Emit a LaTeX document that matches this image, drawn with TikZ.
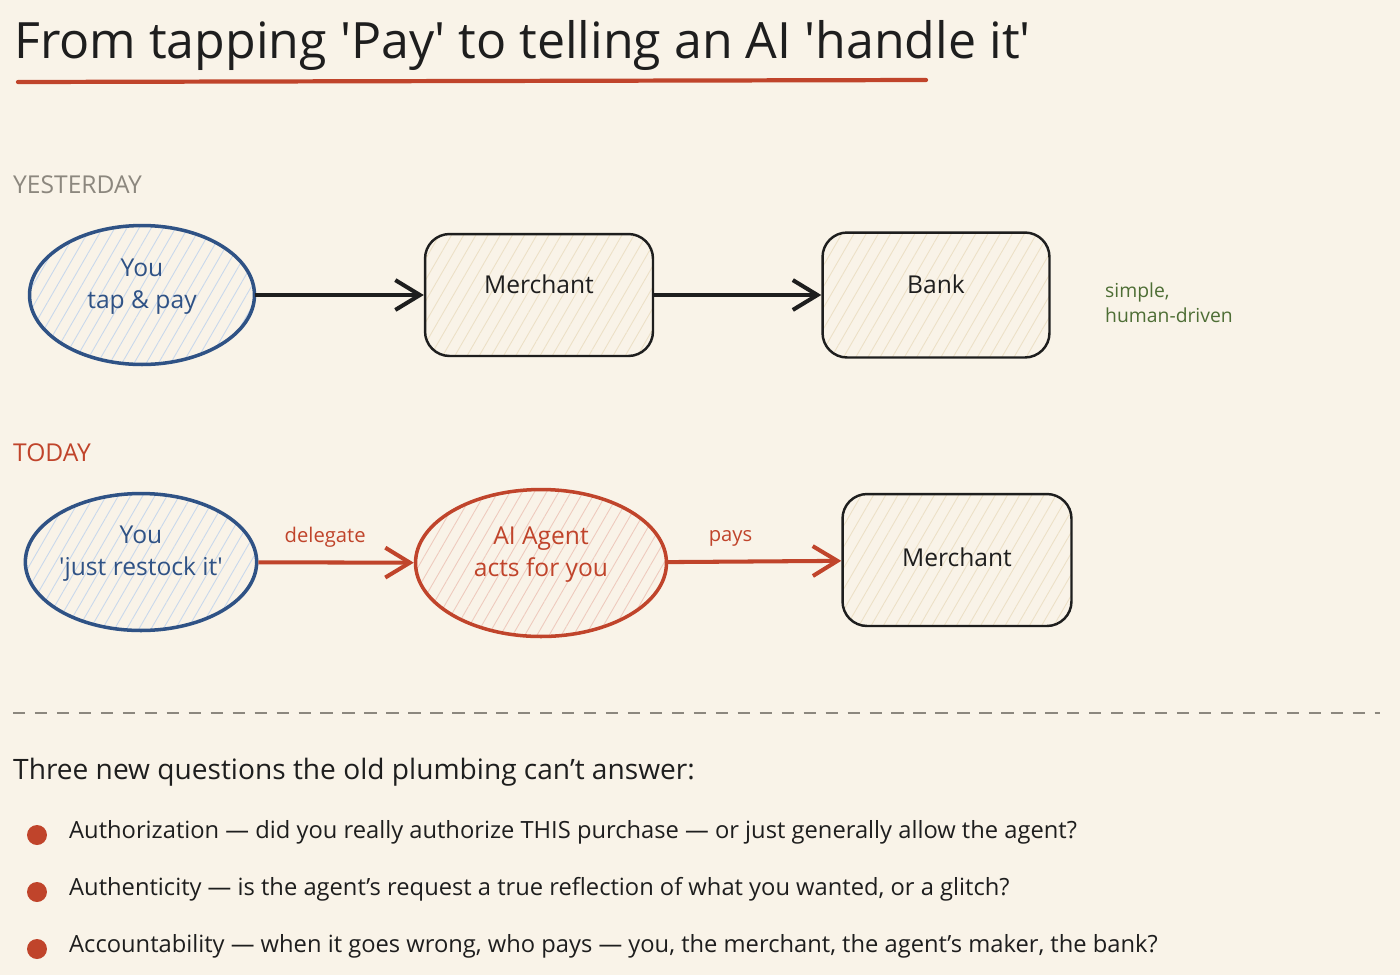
\documentclass[tikz,border=0pt]{standalone}
\usepackage{fontspec}
\setmainfont{Open Sans}
\usetikzlibrary{positioning,arrows.meta,shapes.geometric,patterns.meta}

\definecolor{paper}{HTML}{F9F3E8}
\definecolor{ink}{HTML}{1E1E1E}
\definecolor{inkblue}{HTML}{2F5285}
\definecolor{inkred}{HTML}{C0442B}
\definecolor{inkgreen}{HTML}{4E6E35}
\definecolor{inkgray}{HTML}{8C877E}
\definecolor{hatchblue}{HTML}{C8D8EC}
\definecolor{hatchred}{HTML}{EECABD}
\definecolor{hatchtan}{HTML}{ECE0C6}

\begin{document}
\begin{tikzpicture}[
		x=0.02cm, y=-0.02cm,
		font=\fontsize{14}{18}\selectfont,
		>={Straight Barb[length=14pt,width=17pt]},
		hatch/.style={
			pattern={Lines[angle=60,distance=6pt,line width=0.5pt]},
		},
		you/.style={
			ellipse,
			draw=inkblue,
			line width=2pt,
			text=inkblue,
			align=center,
			inner sep=0pt,
			text depth=0.45cm,
			hatch,
			pattern color=hatchblue,
		},
		agent/.style={
			you,
			draw=inkred,
			text=inkred,
			pattern color=hatchred,
		},
		party/.style={
			rectangle,
			rounded corners=14pt,
			draw=ink,
			line width=1.4pt,
			minimum width=4.56cm,
			minimum height=2.44cm,
			text=ink,
			text depth=0.45cm,
			hatch,
			pattern color=hatchtan,
		},
		flow/.style={->, line width=2.3pt, draw=ink},
		section/.style={anchor=west, font=\fontsize{14}{17}\selectfont},
		tag/.style={font=\fontsize{11.5}{14}\selectfont, text=inkred},
		dot/.style={circle, fill=inkred, minimum size=0.4cm, inner sep=0pt},
		]
		% Page background and frame
		\useasboundingbox[fill=paper] (0,0) rectangle (1400,975);
		% Draw the title and its underline
		\node[anchor=base west, font=\fontsize{28.5}{34}\selectfont, text=ink] (title) at (8,58)
			{From tapping \textquotesingle Pay\textquotesingle{} to telling an AI \textquotesingle handle it\textquotesingle};
		\draw[inkred, line width=2.4pt, line cap=round] (18,82) -- (926,80);
		
		% Yesterday: you -> merchant -> bank
		\node[section, text=inkgray] (yesterday) at (7,185) {YESTERDAY};
		\node[you, minimum width=4.5cm, minimum height=2.78cm] (you) at (142,295) {You\\tap \& pay};
		\node[party] (merchant) at (539,295) {Merchant};
		\node[party, minimum width=4.54cm, minimum height=2.5cm] (bank) at (936,295) {Bank};
		\draw[flow] (you) -- (merchant);
		\draw[flow] (merchant) -- (bank);
		\node[anchor=west, align=left, font=\fontsize{11}{14.5}\selectfont, text=inkgreen] (simple) at (1099,303) {simple,\\human-driven};
		
		% Today: you -> agent -> merchant
		\node[section, text=inkred] (today) at (7,453) {TODAY};
		\node[you, minimum width=4.58cm, minimum height=2.74cm] (you2) at (141,562) {You\\\textquotesingle just restock it\textquotesingle};
		\node[agent, minimum width=5.02cm, minimum height=2.94cm] (agent) at (541,563) {AI Agent\\acts for you};
		\node[party, minimum width=4.58cm, minimum height=2.64cm, text depth=0.12cm] (merchant2) at (957,560) {Merchant};
		\draw[flow, draw=inkred] (you2) -- node[tag, pos=0.43, above=4pt] (delegate) {delegate} (agent);
		\draw[flow, draw=inkred] (agent) -- node[tag, pos=0.36, above=4pt] (pays) {pays} (merchant2);
		
		% Divider
		\draw[inkgray, line width=1.2pt, dash pattern=on 7pt off 5.5pt] (13,713) -- (1380,713);
		
		% Draw the three questions
		\node[anchor=west, font=\fontsize{16}{19}\selectfont, text=ink] (questions) at (7,772) {Three new questions the old plumbing can't answer:};
		\foreach \i/\y/\txt in {
			1/832/{Authorization --- did you really authorize THIS purchase --- or just generally allow the agent?},
			2/889/{Authenticity --- is the agent's request a true reflection of what you wanted, or a glitch?},
			3/946/{Accountability --- when it goes wrong, who pays --- you, the merchant, the agent's maker, the bank?}} {
			\node[dot] (dot\i) at (37,\y+3) {};
			\node[anchor=west, text=ink, font=\fontsize{13.5}{16}\selectfont] (point\i) at (63,\y) {\txt};
		}
	\end{tikzpicture}
\end{document}
